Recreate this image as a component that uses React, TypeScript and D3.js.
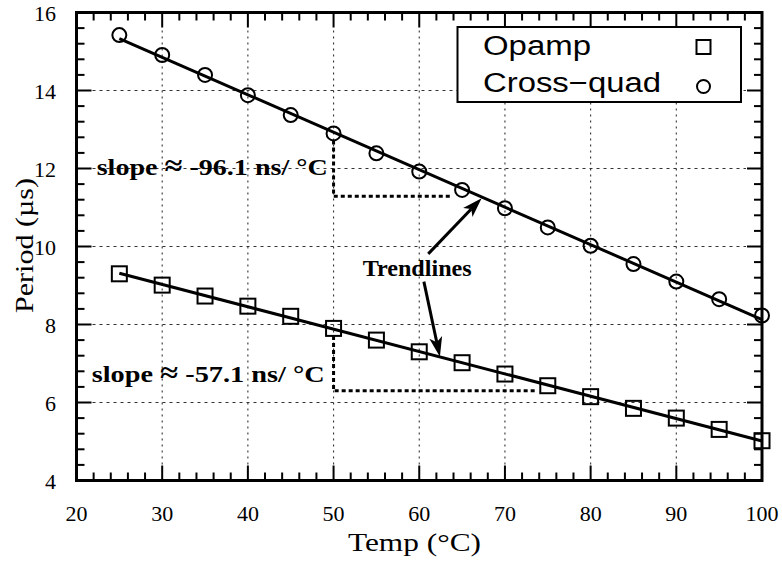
import React from 'react';
import * as d3 from 'd3';

// temperature steps (°C)
const temps = [25, 30, 35, 40, 45, 50, 55, 60, 65, 70, 75, 80, 85, 90, 95, 100];
// period in µs
const crossQuad = [15.42, 14.91, 14.40, 13.88, 13.37, 12.90, 12.39, 11.92, 11.45, 10.98, 10.49, 10.02, 9.55, 9.10, 8.65, 8.23];
const opamp = [9.30, 9.01, 8.73, 8.47, 8.21, 7.90, 7.60, 7.30, 7.02, 6.73, 6.43, 6.15, 5.85, 5.60, 5.31, 5.02];

const xTicks = [20, 30, 40, 50, 60, 70, 80, 90, 100];
const yTicks = [4, 6, 8, 10, 12, 14, 16];

// slope triangles: [x0, x1, yLevel]
const slopeTop = [50, 63.8, 11.29];
const slopeBottom = [50, 73.7, 6.30];
// arrows: [x0, y0, x1, y1] in data units
const arrows = [
    [61.05, 9.81, 67.28, 11.24],
    [60.54, 9.10, 62.41, 7.17],
];

const W = 782;
const H = 565;
const SERIF = '"Liberation Serif", "Times New Roman", serif';
const SANS = '"Liberation Sans", Arial, sans-serif';

function fit(xs, ys) {
    const mx = d3.mean(xs);
    const my = d3.mean(ys);
    let num = 0;
    let den = 0;
    xs.forEach((x, i) => {
        num += (x - mx) * (ys[i] - my);
        den += (x - mx) * (x - mx);
    });
    const k = num / den;
    return x => my + k * (x - mx);
}

class PeriodChart extends React.Component {
    constructor(props) {
        super(props);
        this.x = d3.scaleLinear().domain([20, 100]).range([76.5, 762]);
        this.y = d3.scaleLinear().domain([4, 16]).range([480.5, 12.5]);
        this.line = d3.line().x(d => this.x(d[0])).y(d => this.y(d[1]));
    }

    trend(values) {
        const f = fit(temps, values);
        const x0 = temps[0];
        const x1 = temps[temps.length - 1];
        return this.line([[x0, f(x0)], [x1, f(x1)]]);
    }

    renderArrow(a, i) {
        const { x, y } = this;
        const x0 = x(a[0]), y0 = y(a[1]), x1 = x(a[2]), y1 = y(a[3]);
        const ang = Math.atan2(y1 - y0, x1 - x0);
        const len = 20, half = 6.5, back = 15;
        const ca = Math.cos(ang), sa = Math.sin(ang);
        const bx = x1 - len * ca, by = y1 - len * sa;
        const ix = x1 - back * ca, iy = y1 - back * sa;
        const head = `M${x1},${y1} L${bx - half * sa},${by + half * ca} L${ix},${iy} L${bx + half * sa},${by - half * ca} Z`;
        return (
            <g key={i}>
                <line x1={x0} y1={y0} x2={ix} y2={iy} stroke="#000" strokeWidth="3" />
                <path d={head} fill="#000" />
            </g>
        );
    }

    slopeLabel(x0, y0, len, value) {
        return (
            <text x={x0} y={y0} textLength={len} lengthAdjust="spacingAndGlyphs">
                {'slope '}<tspan fontSize="28">≈</tspan>{` ${value} ns/ °C`}
            </text>
        );
    }

    render() {
        const { x, y } = this;
        const [xl, xr] = x.range();
        const [yb, yt] = y.range();
        const xMinor = d3.range(20, 100.01, 2);
        const yMinor = d3.range(4, 16.01, 0.4);

        return (
            <svg width={W} height={H} style={{ position: 'absolute', left: 0, top: 0 }}>
                <rect width={W} height={H} fill="#fff" />
                {/* grid */}
                <g stroke="#333" strokeWidth="1.1">
                    {xTicks.slice(1, -1).map(t => (
                        <line key={'gx' + t} x1={x(t)} x2={x(t)} y1={yb - 16} y2={yt + 16} strokeDasharray="2,4" />
                    ))}
                    {yTicks.slice(1, -1).map(t => (
                        <line key={'gy' + t} x1={xl + 16} x2={xr - 16} y1={y(t)} y2={y(t)} strokeDasharray="3,4" />
                    ))}
                </g>
                {/* ticks */}
                <g stroke="#000" strokeWidth="2">
                    {xMinor.map(t => {
                        const l = t % 10 === 0 ? 15 : 8;
                        return (
                            <g key={'tx' + t}>
                                <line x1={x(t)} x2={x(t)} y1={yb} y2={yb - l} />
                                <line x1={x(t)} x2={x(t)} y1={yt} y2={yt + l} />
                            </g>
                        );
                    })}
                    {yMinor.map((t, i) => {
                        const l = i % 5 === 0 ? 15 : 8;
                        return (
                            <g key={'ty' + i}>
                                <line x1={xl} x2={xl + l} y1={y(t)} y2={y(t)} />
                                <line x1={xr} x2={xr - l} y1={y(t)} y2={y(t)} />
                            </g>
                        );
                    })}
                </g>
                {/* tick labels */}
                <g fontFamily={SERIF} fontSize="22" fill="#000">
                    {xTicks.map(t => (
                        <text key={'lx' + t} x={x(t)} y={yb + 40} textAnchor="middle">{t}</text>
                    ))}
                    {yTicks.map(t => (
                        <text key={'ly' + t} x={56} y={y(t) + 8} textAnchor="end">{t}</text>
                    ))}
                </g>
                <text x={348} y={551} fontFamily={SERIF} fontSize="26" textLength="133" lengthAdjust="spacingAndGlyphs">Temp (°C)</text>
                <text transform="translate(33,313) rotate(-90)" fontFamily={SERIF} fontSize="26" textLength="135" lengthAdjust="spacingAndGlyphs">Period (µs)</text>

                {/* slope triangles */}
                <g stroke="#000" strokeWidth="3" fill="none" strokeDasharray="4,3">
                    <path d={`M${x(slopeTop[0])},${y(crossQuad[5]) + 7} V${y(slopeTop[2])} H${x(slopeTop[1])}`} />
                    <path d={`M${x(slopeBottom[0])},${y(opamp[5]) + 7.5} V${y(slopeBottom[2])} H${x(slopeBottom[1])}`} />
                </g>

                {/* trendlines */}
                <path d={this.trend(crossQuad)} stroke="#000" strokeWidth="3" fill="none" />
                <path d={this.trend(opamp)} stroke="#000" strokeWidth="3" fill="none" />

                {/* markers */}
                <g stroke="#000" strokeWidth="2" fill="none">
                    {temps.map((t, i) => (
                        <circle key={'c' + t} cx={x(t)} cy={y(crossQuad[i])} r="7" />
                    ))}
                    {temps.map((t, i) => (
                        <rect key={'s' + t} x={x(t) - 7.5} y={y(opamp[i]) - 7.5} width="15" height="15" />
                    ))}
                </g>

                {/* annotations */}
                <g fontFamily={SERIF} fontWeight="bold" fontSize="24" fill="#000">
                    {this.slopeLabel(96.7, 175, 231, '-96.1')}
                    {this.slopeLabel(91.7, 381.5, 233, '-57.1')}
                    <text x={362.7} y={276} textLength="109" lengthAdjust="spacingAndGlyphs">Trendlines</text>
                </g>
                {arrows.map((a, i) => this.renderArrow(a, i))}

                {/* legend */}
                <g>
                    <rect x={457.5} y={27} width={283.5} height={75} fill="#fff" stroke="#000" strokeWidth="2" />
                    <text x={483} y={55} fontFamily={SANS} fontSize="27" textLength="108" lengthAdjust="spacingAndGlyphs">Opamp</text>
                    <text x={483} y={92} fontFamily={SANS} fontSize="27" textLength="178" lengthAdjust="spacingAndGlyphs">Cross−quad</text>
                    <rect x={703.5 - 7} y={47 - 7} width="14" height="14" fill="none" stroke="#000" strokeWidth="2" />
                    <circle cx={703.5} cy={86.5} r="6.5" fill="none" stroke="#000" strokeWidth="2" />
                </g>

                {/* frame */}
                <rect x={xl} y={yt} width={xr - xl} height={yb - yt} fill="none" stroke="#000" strokeWidth="3" />
            </svg>
        );
    }
}

export default function App() {
    return <PeriodChart />;
}
